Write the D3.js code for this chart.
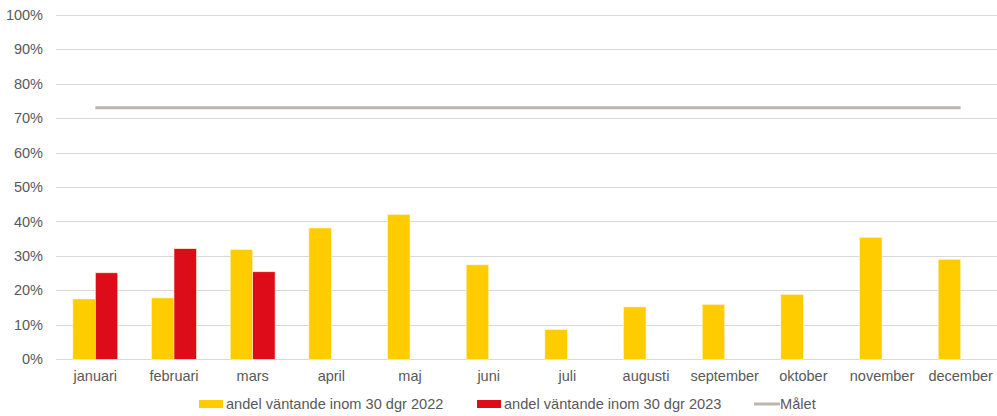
<!DOCTYPE html>
<html>
<head>
<meta charset="utf-8">
<script src="https://cdn.jsdelivr.net/npm/d3@7"></script>
<style>
  body { margin: 0; background: #fff; }
  svg text { font-family: "Liberation Sans", Arial, sans-serif; fill: #595959; }
</style>
</head>
<body>
<div id="chart"></div>
<script>
// months on the x axis
var months = ['januari', 'februari', 'mars', 'april', 'maj', 'juni', 'juli', 'augusti', 'september', 'oktober', 'november', 'december'];
// share (%) per month
var values2022 = [17.5, 17.8, 31.8, 38.1, 42.0, 27.4, 8.6, 15.2, 15.9, 18.8, 35.4, 29.0];
var values2023 = [25.1, 32.1, 25.4, null, null, null, null, null, null, null, null, null];
var target = 73.0;
var yTicks = [0, 10, 20, 30, 40, 50, 60, 70, 80, 90, 100];
var seriesNames = ['andel väntande inom 30 dgr 2022', 'andel väntande inom 30 dgr 2023', 'Målet'];
var colors = ['#ffcc00', '#dc0c18', '#bdb5ad'];

var width = 997, height = 416,
    plotLeft = 56, plotRight = 1000, plotTop = 14.7, plotBottom = 359.3;

var svg = d3.select('#chart').append('svg')
    .attr('width', width)
    .attr('height', height);

var x = d3.scaleBand().domain(months).range([plotLeft, plotRight]).paddingInner(0.43).paddingOuter(0.215);
var x1 = d3.scaleBand().domain([0, 1]).range([0, x.bandwidth()]);
var y = d3.scaleLinear().domain([0, 100]).range([plotBottom, plotTop]);

// grid lines
svg.append('g').selectAll('line')
    .data(yTicks)
    .enter().append('line')
    .attr('x1', plotLeft).attr('x2', width)
    .attr('y1', d => Math.round(y(d)) + 0.5)
    .attr('y2', d => Math.round(y(d)) + 0.5)
    .attr('stroke', '#d9d9d9')
    .attr('stroke-width', 1);

// y axis labels
svg.append('g').selectAll('text')
    .data(yTicks)
    .enter().append('text')
    .attr('x', 43)
    .attr('y', d => y(d))
    .attr('dy', '0.35em')
    .attr('text-anchor', 'end')
    .attr('font-size', 14.5)
    .text(d => d + '%');

// bars
[values2022, values2023].forEach(function (vals, s) {
    svg.append('g').selectAll('rect')
        .data(vals.map((v, i) => ({ m: months[i], v: v })).filter(d => d.v !== null))
        .enter().append('rect')
        .attr('x', d => x(d.m) + x1(s))
        .attr('width', x1.bandwidth())
        .attr('y', d => y(d.v))
        .attr('height', d => y(0) - y(d.v))
        .attr('fill', colors[s])
        .attr('stroke', '#fff3c8')
        .attr('stroke-width', 0.6);
});

// target line
svg.append('line')
    .attr('x1', x(months[0]) + x.bandwidth() / 2)
    .attr('x2', x(months[months.length - 1]) + x.bandwidth() / 2)
    .attr('y1', y(target)).attr('y2', y(target))
    .attr('stroke', colors[2])
    .attr('stroke-width', 3);

// x labels
svg.append('g').selectAll('text')
    .data(months)
    .enter().append('text')
    .attr('x', d => x(d) + x.bandwidth() / 2)
    .attr('y', 381)
    .attr('text-anchor', 'middle')
    .attr('font-size', 14.5)
    .text(d => d);

// legend
var legendX = [199, 477, 754];
var lg = svg.append('g');
seriesNames.forEach(function (name, i) {
    if (i < 2) {
        lg.append('rect')
            .attr('x', legendX[i]).attr('y', 400)
            .attr('width', 24).attr('height', 8)
            .attr('fill', colors[i]);
    } else {
        lg.append('line')
            .attr('x1', legendX[i]).attr('x2', legendX[i] + 26)
            .attr('y1', 404).attr('y2', 404)
            .attr('stroke', colors[i]).attr('stroke-width', 3);
    }
    lg.append('text')
        .attr('x', legendX[i] + (i < 2 ? 27 : 26))
        .attr('y', 404)
        .attr('dy', '0.35em')
        .attr('font-size', 14.6)
        .text(name);
});
</script>
</body>
</html>
